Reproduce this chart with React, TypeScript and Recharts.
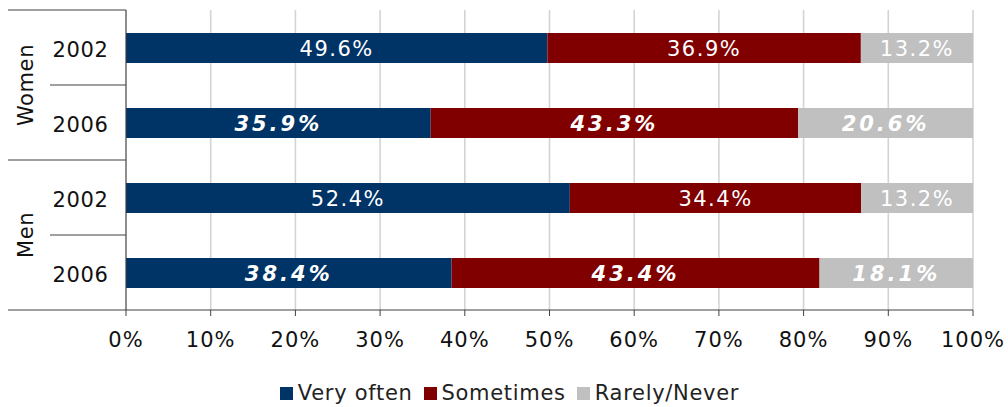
import React from 'react';
import {
  BarChart,
  Bar,
  XAxis,
  YAxis,
  CartesianGrid,
  Legend,
  LabelList,
} from 'recharts';

const groups = ['Women', 'Women', 'Men', 'Men'];
const years = ['2002', '2006', '2002', '2006'];
const veryOften = [49.6, 35.9, 52.4, 38.4];
const sometimes = [36.9, 43.3, 34.4, 43.4];
const rarely = [13.2, 20.6, 13.2, 18.1];
const xTicks = [0, 0.1, 0.2, 0.3, 0.4, 0.5, 0.6, 0.7, 0.8, 0.9, 1];

const SERIES = [
  { key: 'veryOften', name: 'Very often', color: '#003366', values: veryOften },
  { key: 'sometimes', name: 'Sometimes', color: '#800000', values: sometimes },
  { key: 'rarely', name: 'Rarely/Never', color: '#c0c0c0', values: rarely },
];

const data = years.map((year, i) => ({
  id: `${groups[i]} ${year}`,
  veryOften: veryOften[i],
  sometimes: sometimes[i],
  rarely: rarely[i],
}));

const FONT = '"DejaVu Sans", Verdana, sans-serif';
const W = 1008;
const H = 407;
const MARGIN = { top: 10, right: 35, bottom: 0, left: 8 };
const Y_WIDTH = 118;
const X_HEIGHT = 69;
const LEGEND_H = 28;
const AXIS_X = MARGIN.left + Y_WIDTH;
const PLOT_H = H - MARGIN.top - MARGIN.bottom - X_HEIGHT - LEGEND_H;
const BAND = PLOT_H / data.length;

// year labels plus the Excel-style grouped category lines
const CategoryTick = (props: any) => {
  const { y, payload } = props;
  const i = payload.index;
  const top = y - BAND / 2;
  const bottom = y + BAND / 2;
  const lineColor = '#404040';
  return (
    <g>
      {i === 0 && <line x1={8} x2={AXIS_X} y1={top} y2={top} stroke={lineColor} />}
      <line x1={i % 2 === 1 ? 8 : 50} x2={AXIS_X} y1={bottom} y2={bottom} stroke={lineColor} />
      <text x={80.5} y={y + 2} textAnchor="middle" dominantBaseline="central"
            fontFamily={FONT} fontSize={21} letterSpacing={0.6} fill="#111">
        {years[i]}
      </text>
      {i % 2 === 0 && (
        <text x={26} y={bottom} textAnchor="middle" dominantBaseline="central"
              transform={`rotate(-90 26 ${bottom})`}
              fontFamily={FONT} fontSize={21} letterSpacing={0.6} fill="#111">
          {groups[i]}
        </text>
      )}
    </g>
  );
};

const makeLabel = (values: number[]) => (props: any) => {
  const { x, y, width, height, index } = props;
  const bold = index % 2 === 1;
  return (
    <text
      x={x + width / 2}
      y={y + height / 2 + 1}
      textAnchor="middle"
      dominantBaseline="central"
      fill="#fff"
      fontFamily={FONT}
      fontSize={21}
      fontWeight={bold ? 'bold' : 'normal'}
      fontStyle={bold ? 'italic' : 'normal'}
      letterSpacing={bold ? 3 : 1.5}
    >
      {values[index].toFixed(1)}%
    </text>
  );
};

const LegendContent = () => (
  <div style={{ display: 'flex', justifyContent: 'center', alignItems: 'center', height: LEGEND_H,
                fontFamily: FONT, fontSize: 21, color: '#222', letterSpacing: 0.7 }}>
    {SERIES.map((s) => (
      <div key={s.key} style={{ display: 'flex', alignItems: 'center', marginRight: 11 }}>
        <span style={{ display: 'inline-block', width: 13, height: 13, background: s.color, marginRight: 5 }} />
        <span>{s.name}</span>
      </div>
    ))}
  </div>
);

export default function App() {
  return (
    <div style={{ position: 'absolute', left: 0, top: 0, width: W, height: H, background: '#fff', fontFamily: FONT }}>
      <BarChart width={W} height={H} data={data} layout="vertical" stackOffset="expand" margin={MARGIN}>
        <CartesianGrid horizontal={false} stroke="#d4d4d4" strokeWidth={1.6} />
        <XAxis
          type="number"
          domain={[0, 1]}
          ticks={xTicks}
          interval={0}
          height={X_HEIGHT}
          tickFormatter={(v: number) => `${Math.round(v * 100)}%`}
          tick={{ fontFamily: FONT, fontSize: 21, fill: '#111', letterSpacing: 1 }}
          tickSize={6}
          tickMargin={16}
          axisLine={{ stroke: '#404040' }}
          tickLine={{ stroke: '#404040' }}
        />
        <YAxis
          type="category"
          dataKey="id"
          width={Y_WIDTH}
          tick={<CategoryTick />}
          tickLine={false}
          axisLine={{ stroke: '#404040' }}
          interval={0}
        />
        <Legend
          verticalAlign="bottom"
          content={<LegendContent />}
          wrapperStyle={{ left: 0, width: W, paddingLeft: 22, boxSizing: 'border-box', height: LEGEND_H }}
        />
        {SERIES.map((s) => (
          <Bar key={s.key} dataKey={s.key} name={s.name} stackId="a" fill={s.color} barSize={30} isAnimationActive={false}>
            <LabelList dataKey={s.key} content={makeLabel(s.values)} />
          </Bar>
        ))}
      </BarChart>
    </div>
  );
}
